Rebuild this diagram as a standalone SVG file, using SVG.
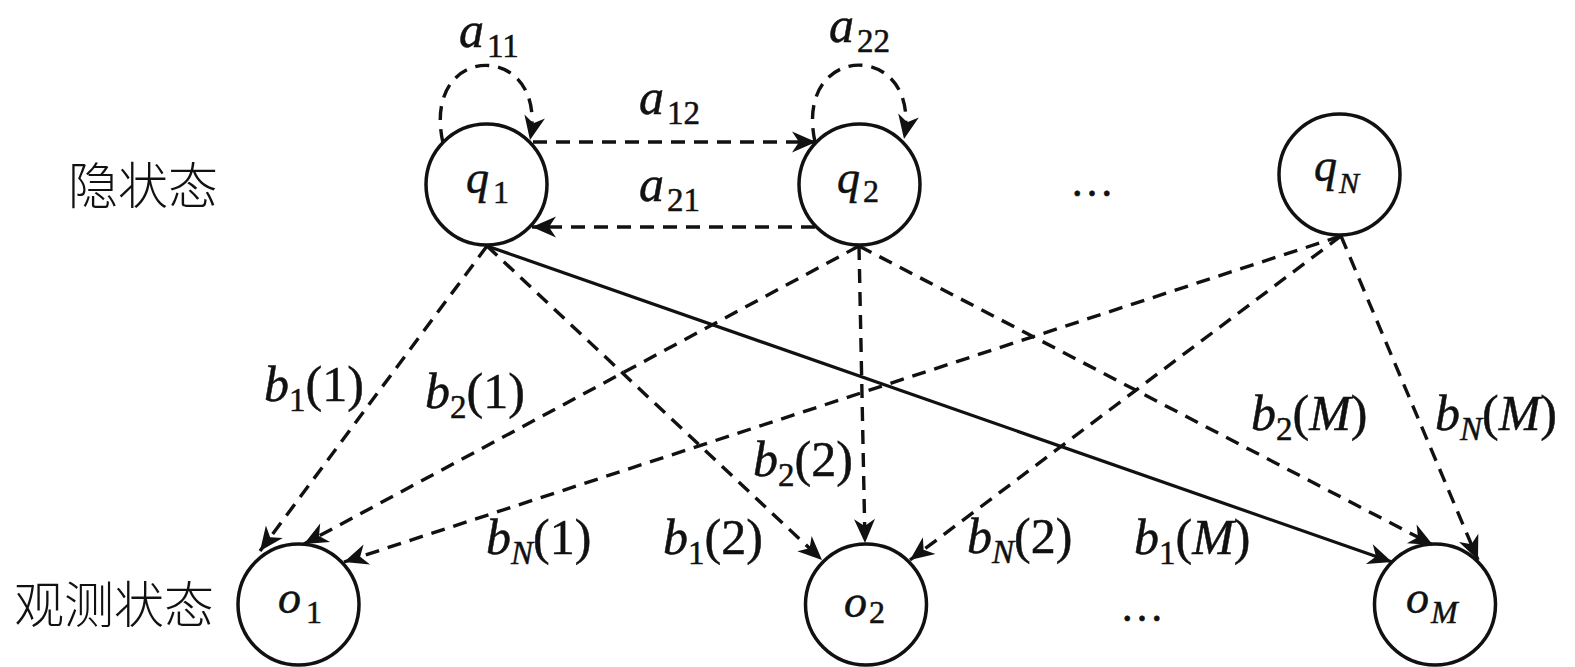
<svg xmlns="http://www.w3.org/2000/svg" width="1575" height="667" viewBox="0 0 1575 667">
<style>
.node{fill:#fff;stroke:#111;stroke-width:3.5}
.e{fill:none;stroke:#111;stroke-width:3.4;stroke-dasharray:14 9;marker-end:url(#ah)}
.s{fill:none;stroke:#111;stroke-width:3.2;marker-end:url(#ah)}
.t{font-family:"Liberation Serif","Times New Roman",serif;fill:#111;stroke:#111;stroke-width:0.5}
.i{font-style:italic}
.n{font-style:normal}
.cjk{font-family:"Noto Sans CJK SC","Noto Sans CJK JP",sans-serif;font-size:50px;font-weight:300;fill:#111}
</style>
<defs>
<marker id="ah" viewBox="-25 -12 27 24" refX="0" refY="0" markerWidth="27" markerHeight="24" markerUnits="userSpaceOnUse" orient="auto">
<path d="M0,0 L-24,-10.5 L-17,0 L-24,10.5 Z" fill="#111"/>
</marker>
</defs>
<g id="connectors">
<path class="e" d="M443,143 C420,40 550,40 530,140"/>
<path class="e" d="M815,142 C793,40 923,40 904,139"/>
<path class="e" d="M533,142 L816,142"/>
<path class="e" d="M815,227 L532,227"/>
<path class="e" d="M487,246 L260,551"/>
<path class="e" d="M487,246 L822,560"/>
<path class="s" d="M487,246 L1392,562"/>
<path class="e" d="M859,246 L304,544"/>
<path class="e" d="M859,246 L865,543"/>
<path class="e" d="M859,246 L1433,545"/>
<path class="e" d="M1341,236 L344,562"/>
<path class="e" d="M1341,236 L910,560"/>
<path class="e" d="M1341,236 L1478,560"/>
</g>
<g id="q1"><circle class="node" cx="486.5" cy="184.5" r="60.5"/><text class="t i" x="466" y="193" font-size="46">q<tspan class="n" font-size="32" dx="4" dy="10">1</tspan></text></g>
<g id="q2"><circle class="node" cx="859.5" cy="184.5" r="60.5"/><text class="t i" x="837" y="193" font-size="46">q<tspan class="n" font-size="32" dx="3" dy="9">2</tspan></text></g>
<g id="qN"><circle class="node" cx="1339.5" cy="174.5" r="60.5"/><text class="t i" x="1314" y="181" font-size="46">q<tspan font-size="30" dx="2" dy="12">N</tspan></text></g>
<g id="o1"><circle class="node" cx="298.5" cy="604.5" r="60.5"/><text class="t i" x="278" y="613" font-size="46">o<tspan class="n" font-size="32" dx="5" dy="10">1</tspan></text></g>
<g id="o2"><circle class="node" cx="866" cy="604.5" r="60.5"/><text class="t i" x="844" y="617" font-size="46">o<tspan class="n" font-size="32" dx="2" dy="6">2</tspan></text></g>
<g id="oM"><circle class="node" cx="1435" cy="604.5" r="60.5"/><text class="t i" x="1406" y="613" font-size="46">o<tspan font-size="32" dx="2" dy="10">M</tspan></text></g>
<g id="labels">
<text class="cjk" x="68" y="204">隐状态</text>
<text class="cjk" x="14" y="623">观测状态</text>
<text class="t" x="1070" y="196" font-size="44">…</text>
<text class="t" x="1120" y="621" font-size="44">…</text>
<text class="t i" x="459" y="47" font-size="50">a<tspan class="n" font-size="33" dx="3" dy="10">11</tspan></text>
<text class="t i" x="829" y="42" font-size="50">a<tspan class="n" font-size="33" dx="3" dy="10">22</tspan></text>
<text class="t i" x="639" y="114" font-size="50">a<tspan class="n" font-size="33" dx="3" dy="10">12</tspan></text>
<text class="t i" x="639" y="201" font-size="50">a<tspan class="n" font-size="33" dx="3" dy="10">21</tspan></text>
<text class="t i" x="264" y="401" font-size="50">b<tspan class="n" font-size="33" dy="10">1</tspan><tspan class="n" dy="-10">(1)</tspan></text>
<text class="t i" x="425" y="408" font-size="50">b<tspan class="n" font-size="33" dy="10">2</tspan><tspan class="n" dy="-10">(1)</tspan></text>
<text class="t i" x="753" y="476" font-size="50">b<tspan class="n" font-size="33" dy="10">2</tspan><tspan class="n" dy="-10">(2)</tspan></text>
<text class="t i" x="486" y="554" font-size="50">b<tspan font-size="33" dy="10">N</tspan><tspan class="n" dy="-10">(1)</tspan></text>
<text class="t i" x="663" y="554" font-size="50">b<tspan class="n" font-size="33" dy="10">1</tspan><tspan class="n" dy="-10">(2)</tspan></text>
<text class="t i" x="967" y="553" font-size="50">b<tspan font-size="33" dy="10">N</tspan><tspan class="n" dy="-10">(2)</tspan></text>
<text class="t i" x="1134" y="554" font-size="50">b<tspan class="n" font-size="33" dy="10">1</tspan><tspan class="n" dy="-10">(</tspan>M<tspan class="n">)</tspan></text>
<text class="t i" x="1251" y="430" font-size="50">b<tspan class="n" font-size="33" dy="10">2</tspan><tspan class="n" dy="-10">(</tspan>M<tspan class="n">)</tspan></text>
<text class="t i" x="1435" y="430" font-size="50">b<tspan font-size="33" dy="10">N</tspan><tspan class="n" dy="-10">(</tspan>M<tspan class="n">)</tspan></text>
</g>
</svg>
